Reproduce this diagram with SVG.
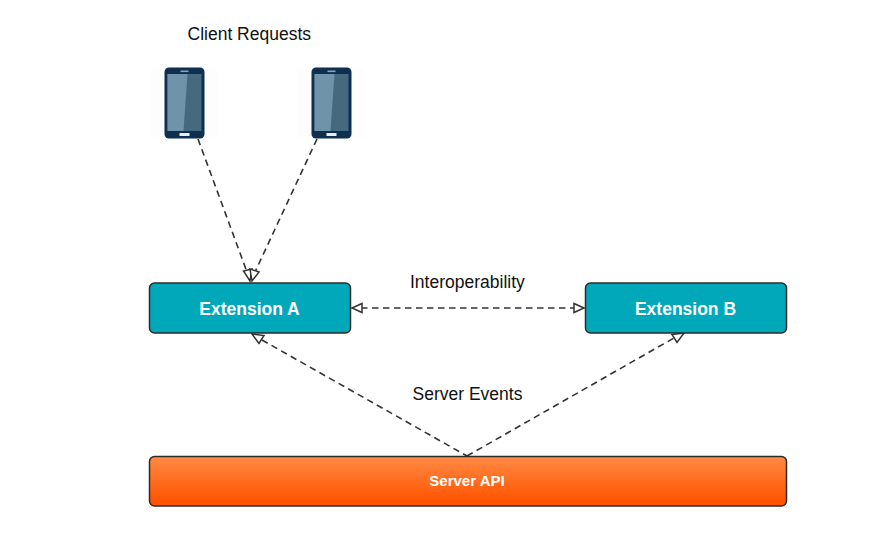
<svg xmlns="http://www.w3.org/2000/svg" width="891" height="536" viewBox="0 0 891 536">
<style>
.t{font-family:"Liberation Sans",Arial,sans-serif;font-size:17.500px;fill:#111}
.n{font-family:"Liberation Sans",Arial,sans-serif;font-weight:bold;fill:#fff;text-anchor:middle}
.box{stroke:#2b2b2b;stroke-width:1.5}
.c{fill:none;stroke:#333;stroke-width:1.600;stroke-dasharray:6.500 4.500}
.h{fill:#fff;stroke:#333;stroke-width:1.500;stroke-linejoin:miter}
</style>
<defs>
<linearGradient id="og" x1="0" y1="0" x2="0" y2="1"><stop offset="0" stop-color="#ff8a45"/><stop offset="0.9" stop-color="#ff5500"/><stop offset="1" stop-color="#ff5500"/></linearGradient>
<g id="phone">
<rect x="-14" y="1" width="68" height="69" fill="#fdfdfd"/>
<rect x="0" y="0" width="40" height="71" rx="4.500" fill="#0e2f50"/>
<rect x="3" y="6.500" width="34" height="57" fill="#45697f"/>
<polygon points="3,6.500 23,6.500 19,63.500 3,63.500" fill="#6f93a8"/>
<rect x="16" y="3" width="8" height="1.600" fill="#8ea4b5"/>
<rect x="15" y="65.500" width="10" height="3" fill="#e8edf0"/>
</g>
</defs>
<rect width="891" height="536" fill="#fff"/>
<g id="phone-1"><use href="#phone" x="164.500" y="67.500"/></g>
<g id="phone-2"><use href="#phone" x="311.500" y="67.500"/></g>
<g id="connectors">
<path class="c" d="M198 139L247 272"/>
<path class="c" d="M317 139L255 272"/>
<path class="c" d="M361 308H574"/>
<path class="c" d="M262 340L467 456"/>
<path class="c" d="M467 456L674 338"/>
<polygon class="h" points="250,281 243.500,271 252,269"/>
<polygon class="h" points="252,281 250,269 259,272"/>
<polygon class="h" points="352,308 362,303.500 362,312.500"/>
<polygon class="h" points="584,308 574,303.500 574,312.500"/>
<polygon class="h" points="252,334 264,335.500 259,343.500"/>
<polygon class="h" points="684,333 677,342.500 672,334.500"/>
</g>
<g id="client-requests"><text class="t" x="187.500" y="40">Client Requests</text></g>
<g id="extension-a"><rect class="box" x="149.500" y="283" width="201" height="50" rx="5" fill="#00a8b9"/><text class="n" x="249.500" y="314.500" font-size="17.500">Extension A</text></g>
<g id="extension-b"><rect class="box" x="585.500" y="283" width="201" height="50" rx="5" fill="#00a8b9"/><text class="n" x="685.500" y="314.500" font-size="17.500">Extension B</text></g>
<g id="interoperability"><text class="t" x="410" y="287.500">Interoperability</text></g>
<g id="server-events"><text class="t" x="412.500" y="399.500">Server Events</text></g>
<g id="server-api"><rect class="box" x="149.500" y="456.500" width="637" height="49.500" rx="5" fill="url(#og)"/><text class="n" x="467" y="485.500" font-size="15">Server API</text></g>
</svg>
